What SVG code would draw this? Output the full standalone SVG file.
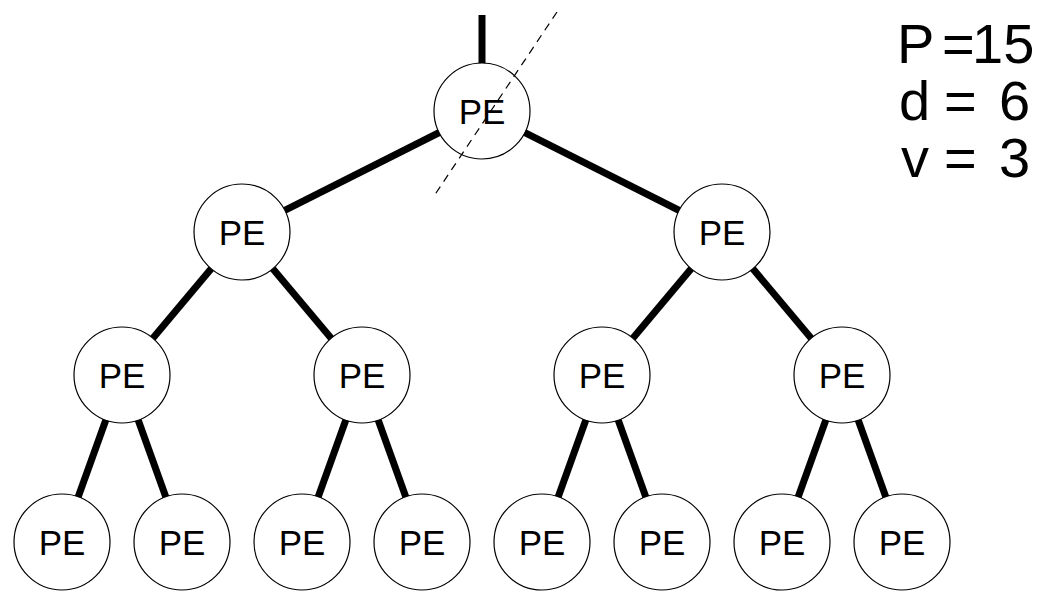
<svg xmlns="http://www.w3.org/2000/svg" width="1043" height="592" viewBox="0 0 1043 592">
  <style>
    .edge { stroke: #000; stroke-width: 7; stroke-linecap: butt; }
    .pe circle { fill: #fff; stroke: #000; stroke-width: 1.2; }
    .pe text { font-family: "Liberation Sans", Arial, sans-serif; font-size: 35px; text-anchor: middle; fill: #000; }
    .param { font-family: "Liberation Sans", Arial, sans-serif; font-size: 56px; fill: #000; }
  </style>
  <rect width="1043" height="592" fill="#fff"/>

  <!-- tree links, drawn center to center and hidden under the node discs -->
  <g id="connectors">
    <line class="edge" x1="482" y1="15" x2="482" y2="111"/>
    <line class="edge" x1="482" y1="111" x2="242" y2="232"/>
    <line class="edge" x1="482" y1="111" x2="722" y2="232"/>
    <line class="edge" x1="242" y1="232" x2="122" y2="375"/>
    <line class="edge" x1="242" y1="232" x2="362" y2="375"/>
    <line class="edge" x1="722" y1="232" x2="602" y2="375"/>
    <line class="edge" x1="722" y1="232" x2="842" y2="375"/>
    <line class="edge" x1="122" y1="375" x2="62" y2="542"/>
    <line class="edge" x1="122" y1="375" x2="182" y2="542"/>
    <line class="edge" x1="362" y1="375" x2="302" y2="542"/>
    <line class="edge" x1="362" y1="375" x2="422" y2="542"/>
    <line class="edge" x1="602" y1="375" x2="542" y2="542"/>
    <line class="edge" x1="602" y1="375" x2="662" y2="542"/>
    <line class="edge" x1="842" y1="375" x2="782" y2="542"/>
    <line class="edge" x1="842" y1="375" x2="902" y2="542"/>
  </g>

  <g id="pe-root" class="pe"><circle cx="482" cy="111" r="48"/><text x="482" y="124">PE</text></g>
  <g id="pe-l" class="pe"><circle cx="242" cy="232" r="48"/><text x="242" y="245">PE</text></g>
  <g id="pe-r" class="pe"><circle cx="722" cy="232" r="48"/><text x="722" y="245">PE</text></g>
  <g id="pe-ll" class="pe"><circle cx="122" cy="375" r="48"/><text x="122" y="388">PE</text></g>
  <g id="pe-lr" class="pe"><circle cx="362" cy="375" r="48"/><text x="362" y="388">PE</text></g>
  <g id="pe-rl" class="pe"><circle cx="602" cy="375" r="48"/><text x="602" y="388">PE</text></g>
  <g id="pe-rr" class="pe"><circle cx="842" cy="375" r="48"/><text x="842" y="388">PE</text></g>
  <g id="pe-lll" class="pe"><circle cx="62" cy="542" r="48"/><text x="62" y="555">PE</text></g>
  <g id="pe-llr" class="pe"><circle cx="182" cy="542" r="48"/><text x="182" y="555">PE</text></g>
  <g id="pe-lrl" class="pe"><circle cx="302" cy="542" r="48"/><text x="302" y="555">PE</text></g>
  <g id="pe-lrr" class="pe"><circle cx="422" cy="542" r="48"/><text x="422" y="555">PE</text></g>
  <g id="pe-rll" class="pe"><circle cx="542" cy="542" r="48"/><text x="542" y="555">PE</text></g>
  <g id="pe-rlr" class="pe"><circle cx="662" cy="542" r="48"/><text x="662" y="555">PE</text></g>
  <g id="pe-rrl" class="pe"><circle cx="782" cy="542" r="48"/><text x="782" y="555">PE</text></g>
  <g id="pe-rrr" class="pe"><circle cx="902" cy="542" r="48"/><text x="902" y="555">PE</text></g>

  <!-- dashed cut through the root -->
  <line id="cut" x1="557" y1="12" x2="434" y2="196" stroke="#000" stroke-width="1.2" stroke-dasharray="8,6"/>

  <!-- parameters, one text line each with placed pieces -->
  <g id="params" class="param">
    <text y="63"><tspan x="897">P</tspan><tspan x="942">=</tspan><tspan x="972">15</tspan></text>
    <text y="120"><tspan x="899">d</tspan><tspan x="944">=</tspan><tspan x="999">6</tspan></text>
    <text y="177"><tspan x="901">v</tspan><tspan x="944">=</tspan><tspan x="999">3</tspan></text>
  </g>
</svg>
